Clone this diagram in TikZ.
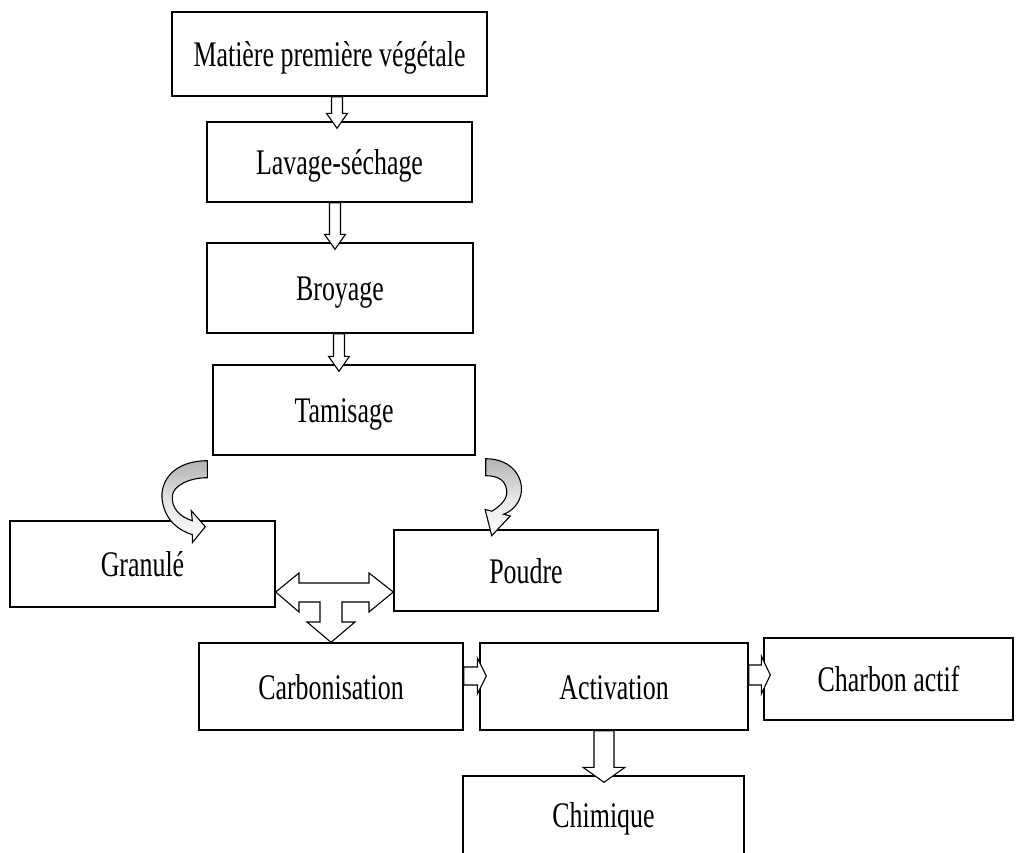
\documentclass[tikz,border=0pt]{standalone}
\usepackage{fontspec}
\setmainfont[FakeStretch=0.72]{Liberation Serif}
\usepackage{tikz}
\usetikzlibrary{calc,positioning}

% fleche creuse vers le bas : decalage, depart, arrivee, demi-tige, demi-tete
\newcommand{\flechebas}[5]{%
  \draw[bloc] let \p1=(#2.south), \p2=(#3.north) in
    (\x1+#1pt-#4pt,\y1) -- (\x1+#1pt-#4pt,\y2+8pt) -- (\x1+#1pt-#5pt,\y2+8pt)
    -- (\x1+#1pt,\y2-7pt) -- (\x1+#1pt+#5pt,\y2+8pt) -- (\x1+#1pt+#4pt,\y2+8pt)
    -- (\x1+#1pt+#4pt,\y1) -- cycle;}
% fleche creuse vers la droite
\newcommand{\flechedroite}[5]{%
  \draw[bloc] let \p1=(#2.east), \p2=(#3.west) in
    (\x1,\y1+#1pt+#4pt) -- (\x2-2pt,\y1+#1pt+#4pt) -- (\x2-2pt,\y1+#1pt+#5pt)
    -- (\x2+7pt,\y1+#1pt) -- (\x2-2pt,\y1+#1pt-#5pt) -- (\x2-2pt,\y1+#1pt-#4pt)
    -- (\x1,\y1+#1pt-#4pt) -- cycle;}

\begin{document}
\begin{tikzpicture}[x=1pt,y=-1pt,
  etape/.style={draw, rectangle, line width=1.4pt, inner sep=0pt,
    text height=25pt, text depth=0pt, font=\fontsize{36}{40}\selectfont},
  bloc/.style={draw, line width=1.1pt, fill=white, line join=miter},
  courbe/.style={draw, line width=1.1pt, top color=gray!60, bottom color=white, middle color=white!80!gray}]
\clip (0,0) rectangle (1019,852);

\node[etape, minimum width=315, minimum height=84] (mat) at (329.5,54) {Matière première végétale};
\node[etape, minimum width=265, minimum height=80] (lav) at (339.5,162) {Lavage-séchage};
\node[etape, minimum width=266, minimum height=90] (broy) at (340,288) {Broyage};
\node[etape, minimum width=262, minimum height=90] (tam) at (344,410) {Tamisage};
\node[etape, minimum width=265, minimum height=86] (gran) at (142.5,564) {Granulé};
\node[etape, minimum width=264, minimum height=81] (poud) at (526,570.5) {Poudre};
\node[etape, minimum width=264, minimum height=87] (carb) at (331,686.5) {Carbonisation};
\node[etape, minimum width=268, minimum height=87] (activ) at (614,686.5) {Activation};
\node[etape, minimum width=249, minimum height=82] (charb) at (888.5,679) {Charbon actif};
\node[etape, minimum width=281, minimum height=78] (chim) at (603.5,815) {Chimique};

\flechebas{7.5}{mat}{lav}{5.5}{10.5}
\flechebas{-4.5}{lav}{broy}{5.5}{10.5}
\flechebas{-1}{broy}{tam}{5.5}{10.5}
\flechebas{-10}{activ}{chim}{10}{21}
\flechedroite{10.5}{carb}{activ}{9}{18}
\flechedroite{11.5}{activ}{charb}{10}{19}

% fleches courbes sous le tamisage
\begin{scope}[shift={(tam.south west)}]
\path[courbe] (-5,5) .. controls (-38,5) and (-53,25) .. (-50,45)
  .. controls (-47,65) and (-33,75) .. (-20,79) -- (-20,87) -- (-7,71) -- (-21,55) -- (-20,65)
  .. controls (-33,61) and (-41,52) .. (-40,40) .. controls (-39,30) and (-23,22) .. (-5,22) -- cycle;
\end{scope}
\begin{scope}[shift={(tam.south east)}]
\path[courbe] (10,3) .. controls (37,3) and (49,23) .. (45,40)
  .. controls (42,50) and (35,56) .. (28,58.5) -- (34.6,60.3) -- (16,80) -- (9.4,53.8) -- (16.2,55.5)
  .. controls (25,50) and (32,43) .. (31,35) .. controls (30,25) and (23,20) .. (10,20) -- cycle;
\end{scope}

% fleche en T entre granule, poudre et carbonisation
\draw[bloc] ([yshift=-28pt]gran.east) -- (299,573) -- (299,583) -- (369,583) -- (369,573)
  -- ([yshift=-21.5pt]poud.west) -- (369,612) -- (369,602) -- (342,602) -- (342,622) -- (355,622)
  -- (carb.north) -- (307,622) -- (320,622) -- (320,602) -- (299,602) -- (299,612) -- cycle;
\end{tikzpicture}
\end{document}
